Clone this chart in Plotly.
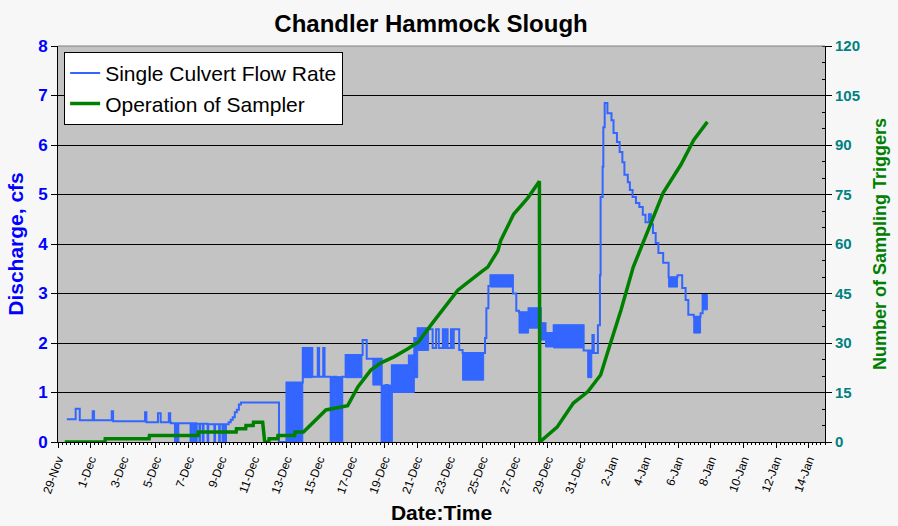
import plotly.graph_objects as go

# ---------------- data ----------------
flow_time = [
    "2003-11-29 13:00", "2003-11-30 02:00", "2003-11-30 08:00", "2003-12-01 03:00", "2003-12-01 05:00",
    "2003-12-02 07:00", "2003-12-02 09:00", "2003-12-04 08:00", "2003-12-04 10:00", "2003-12-05 03:00",
    "2003-12-05 07:00", "2003-12-05 19:00", "2003-12-05 21:00", "2003-12-05 22:00", "2003-12-06 04:00",
    "2003-12-06 06:00", "2003-12-06 07:00", "2003-12-06 09:00",
    "2003-12-07 03:00", "2003-12-07 04:00", "2003-12-07 07:00", "2003-12-07 08:00", "2003-12-07 11:00",
    "2003-12-07 12:00", "2003-12-07 16:00", "2003-12-07 17:00", "2003-12-07 21:00", "2003-12-07 22:00",
    "2003-12-08 04:00", "2003-12-08 05:00", "2003-12-08 14:00", "2003-12-08 15:00", "2003-12-08 21:00",
    "2003-12-08 22:00", "2003-12-09 02:00", "2003-12-09 03:00", "2003-12-09 06:00", "2003-12-09 07:00",
    "2003-12-09 11:00", "2003-12-09 14:00", "2003-12-09 17:00", "2003-12-09 20:00", "2003-12-09 23:00",
    "2003-12-10 02:00", "2003-12-10 05:00", "2003-12-12 13:00",
    "2003-12-13 00:00", "2003-12-14 00:00", "2003-12-14 14:00", "2003-12-14 22:00", "2003-12-15 00:00",
    "2003-12-15 06:00", "2003-12-15 08:00", "2003-12-15 17:00", "2003-12-15 22:00", "2003-12-16 01:00",
    "2003-12-16 10:00", "2003-12-16 15:00", "2003-12-17 16:00", "2003-12-17 22:00", "2003-12-18 07:00",
    "2003-12-18 20:00", "2003-12-19 02:00", "2003-12-19 05:00", "2003-12-19 11:00", "2003-12-20 12:00",
    "2003-12-20 20:00", "2003-12-21 01:00", "2003-12-21 17:00", "2003-12-21 23:00", "2003-12-22 04:00",
    "2003-12-22 08:00", "2003-12-22 14:00", "2003-12-22 15:00", "2003-12-22 18:00", "2003-12-22 21:00",
    "2003-12-23 02:00", "2003-12-23 05:00", "2003-12-23 06:00", "2003-12-23 14:00", "2003-12-23 19:00",
    "2003-12-25 02:00", "2003-12-25 04:00", "2003-12-25 06:00", "2003-12-25 09:00", "2003-12-25 12:00",
    "2003-12-26 21:00", "2003-12-27 02:00", "2003-12-27 06:00", "2003-12-27 20:00", "2003-12-28 14:00",
    "2003-12-28 21:00", "2003-12-29 09:00", "2003-12-31 05:00", "2003-12-31 11:00", "2003-12-31 17:00",
    "2003-12-31 18:00", "2003-12-31 20:00", "2004-01-01 02:00", "2004-01-01 05:00", "2004-01-01 06:00",
    "2004-01-01 09:00", "2004-01-01 10:00", "2004-01-01 12:00", "2004-01-01 16:00", "2004-01-01 22:00",
    "2004-01-02 01:00", "2004-01-02 06:00", "2004-01-02 10:00", "2004-01-02 14:00", "2004-01-02 17:00",
    "2004-01-02 22:00", "2004-01-03 01:00", "2004-01-03 05:00", "2004-01-03 10:00", "2004-01-03 15:00",
    "2004-01-03 20:00", "2004-01-04 00:00", "2004-01-04 05:00", "2004-01-04 08:00", "2004-01-04 11:00",
    "2004-01-04 15:00", "2004-01-04 19:00", "2004-01-05 02:00", "2004-01-05 10:00", "2004-01-05 23:00",
    "2004-01-06 06:00", "2004-01-06 11:00", "2004-01-06 15:00", "2004-01-06 23:00", "2004-01-07 09:00",
    "2004-01-07 12:00", "2004-01-07 19:00",
]
flow_value = [
    0.46, 0.67, 0.44, 0.62, 0.44,
    0.62, 0.42, 0.60, 0.40, 0.58,
    0.40, 0.58, 0.40, 0.38, 0.00,
    0.38, 0.00, 0.38,
    0.00, 0.38, 0.00, 0.38, 0.00,
    0.37, 0.00, 0.37, 0.00, 0.37,
    0.00, 0.36, 0.00, 0.36, 0.00,
    0.36, 0.00, 0.36, 0.00, 0.36,
    0.40, 0.45, 0.50, 0.60, 0.65,
    0.76, 0.80, 0.00,
    1.20, 1.90, 1.32, 1.90, 1.32,
    1.90, 1.32, 0.00, 1.32, 0.00,
    1.32, 1.76, 2.06, 1.68, 1.68,
    0.00, 1.15, 0.00, 1.55, 1.75,
    2.10, 2.30, 2.28, 1.90, 2.28,
    1.90, 2.28, 1.90, 2.28, 1.90,
    2.28, 1.90, 2.28, 1.86, 1.80,
    1.80, 2.10, 2.70, 3.15, 3.37,
    3.00, 2.65, 2.62, 2.70, 2.40,
    2.20, 2.36, 1.85, 1.85, 1.80,
    2.16, 1.80, 2.36, 3.37, 4.95,
    5.56, 6.36, 6.85, 6.64, 6.50,
    6.24, 6.06, 5.86, 5.65, 5.40,
    5.25, 5.09, 4.95, 4.83, 4.75,
    4.59, 4.44, 4.60, 4.40, 4.22,
    4.02, 3.82, 3.62, 3.33, 3.37,
    3.11, 2.87, 2.57, 2.53, 2.60,
    2.97, 2.97,
]

# dense oscillation bands of the flow record (start, end, low, high)
band_start = ["2003-12-13 00:00", "2003-12-14 00:00", "2003-12-15 17:00", "2003-12-16 01:00",
              "2003-12-16 15:00", "2003-12-18 07:00", "2003-12-18 20:00", "2003-12-19 05:00",
              "2003-12-19 11:00", "2003-12-20 12:00", "2003-12-20 20:00", "2003-12-21 01:00",
              "2003-12-23 19:00", "2003-12-25 12:00", "2003-12-27 06:00", "2003-12-27 20:00",
              "2003-12-28 14:00", "2003-12-28 21:00", "2003-12-29 09:00", "2003-12-31 11:00",
              "2004-01-05 10:00", "2004-01-06 23:00", "2004-01-07 12:00"]
band_end = ["2003-12-14 00:00", "2003-12-14 14:00", "2003-12-15 22:00", "2003-12-16 10:00",
            "2003-12-17 15:00", "2003-12-18 20:00", "2003-12-19 02:00", "2003-12-19 11:00",
            "2003-12-20 12:00", "2003-12-20 20:00", "2003-12-21 01:00", "2003-12-21 17:00",
            "2003-12-25 02:00", "2003-12-26 21:00", "2003-12-27 20:00", "2003-12-28 14:00",
            "2003-12-28 21:00", "2003-12-29 09:00", "2003-12-31 05:00", "2003-12-31 17:00",
            "2004-01-05 23:00", "2004-01-07 09:00", "2004-01-07 19:00"]
band_low = [0.0, 1.30, 0.0, 0.0, 1.30, 1.15, 0.0, 0.0, 1.00, 1.00, 1.30, 1.85,
            1.25, 3.13, 2.20, 2.30, 2.06, 1.92, 1.90, 1.30, 3.13, 2.20, 2.67]
band_high = [1.20, 1.90, 1.32, 1.32, 1.76, 1.68, 1.15, 1.15, 1.55, 1.75, 2.10, 2.30,
             1.80, 3.37, 2.62, 2.70, 2.40, 2.20, 2.36, 1.85, 3.33, 2.53, 2.97]

sampler_time = [
    "2003-11-29 10:00", "2003-12-01 21:00", "2003-12-01 21:30", "2003-12-04 14:00", "2003-12-04 14:30",
    "2003-12-07 14:00", "2003-12-07 14:30", "2003-12-09 22:00", "2003-12-09 22:30", "2003-12-10 12:00",
    "2003-12-10 12:30", "2003-12-10 23:00", "2003-12-10 23:30", "2003-12-11 13:00", "2003-12-11 16:00",
    "2003-12-11 22:00", "2003-12-11 22:30", "2003-12-12 11:00", "2003-12-12 11:30", "2003-12-13 12:00",
    "2003-12-13 12:30", "2003-12-14 01:00", "2003-12-15 10:00", "2003-12-16 08:00", "2003-12-16 18:00",
    "2003-12-17 09:00", "2003-12-18 04:00", "2003-12-18 19:00", "2003-12-19 14:00", "2003-12-20 10:00",
    "2003-12-21 02:00", "2003-12-22 00:00", "2003-12-23 12:00", "2003-12-24 22:00", "2003-12-25 08:00",
    "2003-12-25 23:00", "2003-12-26 03:00", "2003-12-26 22:00", "2003-12-27 19:00", "2003-12-28 12:00",
    "2003-12-28 12:30", "2003-12-29 14:00", "2003-12-30 14:00", "2003-12-31 11:00", "2004-01-01 06:00",
    "2004-01-01 16:00", "2004-01-02 12:00", "2004-01-03 06:00", "2004-01-04 03:00", "2004-01-05 02:00",
    "2004-01-06 04:00", "2004-01-06 23:00", "2004-01-07 19:00",
]
sampler_count = [
    0, 0, 1, 1, 2,
    2, 3, 3, 4, 4,
    5, 5, 6, 6, 0,
    0, 1, 1, 2, 2,
    3, 3, 9.7, 10.6, 11,
    16.7, 21.8, 24, 25.8, 28.2,
    30.3, 36.4, 46, 51.5, 53,
    58, 61, 69, 74, 79,
    0, 4.5, 11.8, 15.2, 20.3,
    27, 40, 53, 64, 75.5,
    84, 91.5, 97,
]

x_range = ["2003-11-29", "2004-01-15"]
left_ticks = [0, 1, 2, 3, 4, 5, 6, 7, 8]
right_ticks = [0, 15, 30, 45, 60, 75, 90, 105, 120]

# ---------------- style ----------------
FONT = "Arial, Liberation Sans, sans-serif"
BLUE = "#3366ff"
GREEN = "#008000"

# build band polygons
bx, by = [], []
for s, e, lo, hi in zip(band_start, band_end, band_low, band_high):
    bx += [s, e, e, s, s, None]
    by += [lo, lo, hi, hi, lo, None]

fig = go.Figure()
fig.add_trace(go.Scatter(
    x=bx, y=by, mode="lines", fill="toself", fillcolor=BLUE,
    line=dict(color=BLUE, width=1), showlegend=False, hoverinfo="skip", yaxis="y"))
fig.add_trace(go.Scatter(
    x=flow_time, y=flow_value, mode="lines", name="Single Culvert Flow Rate",
    line=dict(color=BLUE, width=2, shape="hv"), yaxis="y"))
fig.add_trace(go.Scatter(
    x=sampler_time, y=sampler_count, mode="lines", name="Operation of Sampler",
    line=dict(color=GREEN, width=3.5), yaxis="y2"))

fig.update_layout(
    width=898, height=526,
    margin=dict(l=58, r=73, t=46, b=84),
    paper_bgcolor="#f7f7f7",
    plot_bgcolor="#c3c3c3",
    font=dict(family=FONT, color="black"),
    title=dict(text="Chandler Hammock Slough", x=0.48, xanchor="center",
               y=1 - 24 / 526, yanchor="middle", font=dict(size=24, family=FONT, weight="bold")),
    showlegend=True,
    legend=dict(x=0.008, y=0.985, xanchor="left", yanchor="top",
                bgcolor="white", bordercolor="black", borderwidth=1,
                font=dict(size=21, family=FONT), tracegroupgap=0, itemwidth=30),
    xaxis=dict(
        type="date", range=x_range, tickformat="%-d-%b",
        tick0="2003-11-29", dtick=2 * 86400000,
        tickangle=-70, tickfont=dict(size=12, family=FONT),
        ticks="outside", ticklen=5, tickcolor="black",
        showgrid=False, zeroline=False, automargin=False,
        showline=True, linecolor="black", linewidth=1,
        minor=dict(dtick=21600000, ticks="outside", ticklen=2, tickcolor="black"),
        title=dict(text="Date:Time", font=dict(size=21, family=FONT, weight="bold"), standoff=10),
    ),
    yaxis=dict(
        range=[0, 8], tickvals=left_ticks, automargin=False,
        tickfont=dict(size=17, family=FONT, color="#0000ff", weight="bold"),
        ticks="outside", ticklen=6, tickcolor="black",
        showline=True, linecolor="black", linewidth=1,
        showgrid=True, gridcolor="black", gridwidth=1, zeroline=False,
        title=dict(text="Discharge, cfs", font=dict(size=21, family=FONT, color="#0000ff", weight="bold"),
                   standoff=8),
    ),
    yaxis2=dict(
        range=[0, 120], tickvals=right_ticks, overlaying="y", side="right", automargin=False,
        tickfont=dict(size=15, family=FONT, color="#008080", weight="bold"),
        ticks="outside", ticklen=6, tickcolor="black",
        showline=True, linecolor="black", linewidth=1,
        showgrid=False, zeroline=False,
        minor=dict(dtick=5, ticks="inside", ticklen=3, tickcolor="black"),
        title=dict(text="Number of Sampling Triggers",
                   font=dict(size=18, family=FONT, color=GREEN, weight="bold"), standoff=14),
    ),
    shapes=[dict(type="line", xref="paper", yref="paper", x0=0, x1=1, y0=1, y1=1,
                 line=dict(color="#808080", width=1))],
)

fig.write_html("out.html", config={"displayModeBar": False},
               post_script="document.body.style.margin='0';document.body.style.background='#f7f7f7';")
